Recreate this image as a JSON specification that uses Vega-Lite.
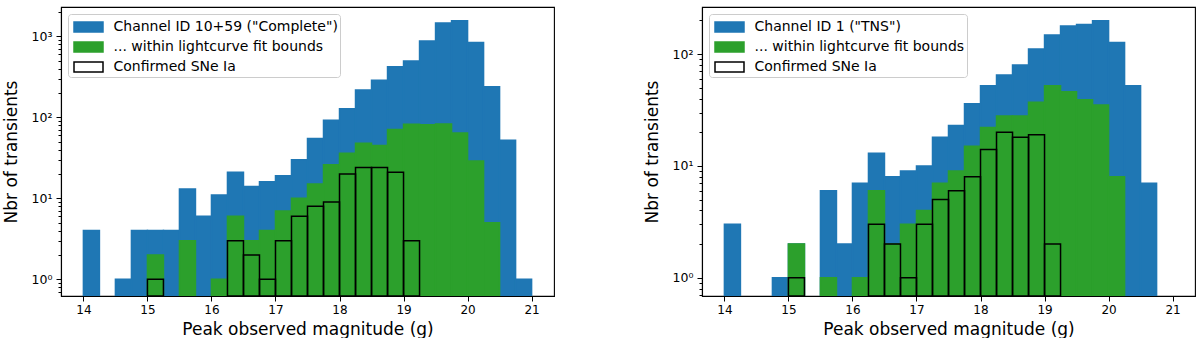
{
  "$schema": "https://vega.github.io/schema/vega-lite/v6.json",
  "padding": {"left": 1, "top": 5, "right": 0, "bottom": 0},
  "background": "white",
  "spacing": 87,
  "config": {
    "view": {"stroke": "black", "strokeWidth": 1.1},
    "font": "DejaVu Sans",
    "axis": {
      "grid": false,
      "domain": true,
      "domainColor": "black",
      "domainWidth": 1.1,
      "tickColor": "black",
      "tickWidth": 1,
      "labelColor": "black",
      "titleColor": "black",
      "labelFont": "DejaVu Sans",
      "titleFont": "DejaVu Sans",
      "labelFontSize": 12,
      "titleFontSize": 17,
      "titleFontWeight": "normal",
      "zindex": 1
    },
    "legend": {
      "orient": "top-left",
      "offset": 7,
      "padding": 2,
      "strokeColor": "#cccccc",
      "fillColor": "rgba(255,255,255,0.8)",
      "cornerRadius": 3,
      "symbolType": "M-1.45,-0.5H1.45V0.5H-1.45Z",
      "symbolSize": 400,
      "symbolOffset": 7.5,
      "symbolStrokeWidth": 1.5,
      "labelFont": "DejaVu Sans",
      "labelFontSize": 14,
      "labelColor": "black",
      "labelOffset": 14,
      "labelLimit": 500,
      "rowPadding": 1,
      "title": null
    }
  },
  "datasets": {
    "complete": [
      {"lo": 14.0, "hi": 14.25, "n": 4, "series": "Channel ID 10+59 (\"Complete\")"},
      {"lo": 14.5, "hi": 14.75, "n": 1, "series": "Channel ID 10+59 (\"Complete\")"},
      {"lo": 14.75, "hi": 15.0, "n": 4, "series": "Channel ID 10+59 (\"Complete\")"},
      {"lo": 15.0, "hi": 15.25, "n": 4, "series": "Channel ID 10+59 (\"Complete\")"},
      {"lo": 15.25, "hi": 15.5, "n": 4, "series": "Channel ID 10+59 (\"Complete\")"},
      {"lo": 15.5, "hi": 15.75, "n": 13, "series": "Channel ID 10+59 (\"Complete\")"},
      {"lo": 15.75, "hi": 16.0, "n": 6, "series": "Channel ID 10+59 (\"Complete\")"},
      {"lo": 16.0, "hi": 16.25, "n": 11, "series": "Channel ID 10+59 (\"Complete\")"},
      {"lo": 16.25, "hi": 16.5, "n": 21, "series": "Channel ID 10+59 (\"Complete\")"},
      {"lo": 16.5, "hi": 16.75, "n": 14, "series": "Channel ID 10+59 (\"Complete\")"},
      {"lo": 16.75, "hi": 17.0, "n": 16, "series": "Channel ID 10+59 (\"Complete\")"},
      {"lo": 17.0, "hi": 17.25, "n": 19, "series": "Channel ID 10+59 (\"Complete\")"},
      {"lo": 17.25, "hi": 17.5, "n": 30, "series": "Channel ID 10+59 (\"Complete\")"},
      {"lo": 17.5, "hi": 17.75, "n": 55, "series": "Channel ID 10+59 (\"Complete\")"},
      {"lo": 17.75, "hi": 18.0, "n": 92, "series": "Channel ID 10+59 (\"Complete\")"},
      {"lo": 18.0, "hi": 18.25, "n": 128, "series": "Channel ID 10+59 (\"Complete\")"},
      {"lo": 18.25, "hi": 18.5, "n": 217, "series": "Channel ID 10+59 (\"Complete\")"},
      {"lo": 18.5, "hi": 18.75, "n": 288, "series": "Channel ID 10+59 (\"Complete\")"},
      {"lo": 18.75, "hi": 19.0, "n": 421, "series": "Channel ID 10+59 (\"Complete\")"},
      {"lo": 19.0, "hi": 19.25, "n": 495, "series": "Channel ID 10+59 (\"Complete\")"},
      {"lo": 19.25, "hi": 19.5, "n": 875, "series": "Channel ID 10+59 (\"Complete\")"},
      {"lo": 19.5, "hi": 19.75, "n": 1459, "series": "Channel ID 10+59 (\"Complete\")"},
      {"lo": 19.75, "hi": 20.0, "n": 1560, "series": "Channel ID 10+59 (\"Complete\")"},
      {"lo": 20.0, "hi": 20.25, "n": 841, "series": "Channel ID 10+59 (\"Complete\")"},
      {"lo": 20.25, "hi": 20.5, "n": 238, "series": "Channel ID 10+59 (\"Complete\")"},
      {"lo": 20.5, "hi": 20.75, "n": 52, "series": "Channel ID 10+59 (\"Complete\")"},
      {"lo": 20.75, "hi": 21.0, "n": 1, "series": "Channel ID 10+59 (\"Complete\")"},
      {"lo": 15.0, "hi": 15.25, "n": 2, "series": "... within lightcurve fit bounds"},
      {"lo": 15.5, "hi": 15.75, "n": 3, "series": "... within lightcurve fit bounds"},
      {"lo": 16.0, "hi": 16.25, "n": 1, "series": "... within lightcurve fit bounds"},
      {"lo": 16.25, "hi": 16.5, "n": 6, "series": "... within lightcurve fit bounds"},
      {"lo": 16.5, "hi": 16.75, "n": 3, "series": "... within lightcurve fit bounds"},
      {"lo": 16.75, "hi": 17.0, "n": 4, "series": "... within lightcurve fit bounds"},
      {"lo": 17.0, "hi": 17.25, "n": 7, "series": "... within lightcurve fit bounds"},
      {"lo": 17.25, "hi": 17.5, "n": 10, "series": "... within lightcurve fit bounds"},
      {"lo": 17.5, "hi": 17.75, "n": 15, "series": "... within lightcurve fit bounds"},
      {"lo": 17.75, "hi": 18.0, "n": 26, "series": "... within lightcurve fit bounds"},
      {"lo": 18.0, "hi": 18.25, "n": 36, "series": "... within lightcurve fit bounds"},
      {"lo": 18.25, "hi": 18.5, "n": 48, "series": "... within lightcurve fit bounds"},
      {"lo": 18.5, "hi": 18.75, "n": 45, "series": "... within lightcurve fit bounds"},
      {"lo": 18.75, "hi": 19.0, "n": 71, "series": "... within lightcurve fit bounds"},
      {"lo": 19.0, "hi": 19.25, "n": 82, "series": "... within lightcurve fit bounds"},
      {"lo": 19.25, "hi": 19.5, "n": 81, "series": "... within lightcurve fit bounds"},
      {"lo": 19.5, "hi": 19.75, "n": 83, "series": "... within lightcurve fit bounds"},
      {"lo": 19.75, "hi": 20.0, "n": 64, "series": "... within lightcurve fit bounds"},
      {"lo": 20.0, "hi": 20.25, "n": 29, "series": "... within lightcurve fit bounds"},
      {"lo": 20.25, "hi": 20.5, "n": 5, "series": "... within lightcurve fit bounds"},
      {"lo": 15.0, "hi": 15.25, "n": 1, "series": "Confirmed SNe Ia"},
      {"lo": 16.25, "hi": 16.5, "n": 3, "series": "Confirmed SNe Ia"},
      {"lo": 16.5, "hi": 16.75, "n": 2, "series": "Confirmed SNe Ia"},
      {"lo": 16.75, "hi": 17.0, "n": 1, "series": "Confirmed SNe Ia"},
      {"lo": 17.0, "hi": 17.25, "n": 3, "series": "Confirmed SNe Ia"},
      {"lo": 17.25, "hi": 17.5, "n": 6, "series": "Confirmed SNe Ia"},
      {"lo": 17.5, "hi": 17.75, "n": 8, "series": "Confirmed SNe Ia"},
      {"lo": 17.75, "hi": 18.0, "n": 9, "series": "Confirmed SNe Ia"},
      {"lo": 18.0, "hi": 18.25, "n": 20, "series": "Confirmed SNe Ia"},
      {"lo": 18.25, "hi": 18.5, "n": 24, "series": "Confirmed SNe Ia"},
      {"lo": 18.5, "hi": 18.75, "n": 24, "series": "Confirmed SNe Ia"},
      {"lo": 18.75, "hi": 19.0, "n": 21, "series": "Confirmed SNe Ia"},
      {"lo": 19.0, "hi": 19.25, "n": 3, "series": "Confirmed SNe Ia"}
    ],
    "tns": [
      {"lo": 14.0, "hi": 14.25, "n": 3, "series": "Channel ID 1 (\"TNS\")"},
      {"lo": 14.75, "hi": 15.0, "n": 1, "series": "Channel ID 1 (\"TNS\")"},
      {"lo": 15.0, "hi": 15.25, "n": 2, "series": "Channel ID 1 (\"TNS\")"},
      {"lo": 15.5, "hi": 15.75, "n": 6, "series": "Channel ID 1 (\"TNS\")"},
      {"lo": 15.75, "hi": 16.0, "n": 2, "series": "Channel ID 1 (\"TNS\")"},
      {"lo": 16.0, "hi": 16.25, "n": 7, "series": "Channel ID 1 (\"TNS\")"},
      {"lo": 16.25, "hi": 16.5, "n": 13, "series": "Channel ID 1 (\"TNS\")"},
      {"lo": 16.5, "hi": 16.75, "n": 8, "series": "Channel ID 1 (\"TNS\")"},
      {"lo": 16.75, "hi": 17.0, "n": 9, "series": "Channel ID 1 (\"TNS\")"},
      {"lo": 17.0, "hi": 17.25, "n": 10, "series": "Channel ID 1 (\"TNS\")"},
      {"lo": 17.25, "hi": 17.5, "n": 18, "series": "Channel ID 1 (\"TNS\")"},
      {"lo": 17.5, "hi": 17.75, "n": 23, "series": "Channel ID 1 (\"TNS\")"},
      {"lo": 17.75, "hi": 18.0, "n": 36, "series": "Channel ID 1 (\"TNS\")"},
      {"lo": 18.0, "hi": 18.25, "n": 52, "series": "Channel ID 1 (\"TNS\")"},
      {"lo": 18.25, "hi": 18.5, "n": 65, "series": "Channel ID 1 (\"TNS\")"},
      {"lo": 18.5, "hi": 18.75, "n": 80, "series": "Channel ID 1 (\"TNS\")"},
      {"lo": 18.75, "hi": 19.0, "n": 111, "series": "Channel ID 1 (\"TNS\")"},
      {"lo": 19.0, "hi": 19.25, "n": 148, "series": "Channel ID 1 (\"TNS\")"},
      {"lo": 19.25, "hi": 19.5, "n": 178, "series": "Channel ID 1 (\"TNS\")"},
      {"lo": 19.5, "hi": 19.75, "n": 184, "series": "Channel ID 1 (\"TNS\")"},
      {"lo": 19.75, "hi": 20.0, "n": 199, "series": "Channel ID 1 (\"TNS\")"},
      {"lo": 20.0, "hi": 20.25, "n": 127, "series": "Channel ID 1 (\"TNS\")"},
      {"lo": 20.25, "hi": 20.5, "n": 52, "series": "Channel ID 1 (\"TNS\")"},
      {"lo": 20.5, "hi": 20.75, "n": 7, "series": "Channel ID 1 (\"TNS\")"},
      {"lo": 15.0, "hi": 15.25, "n": 2, "series": "... within lightcurve fit bounds"},
      {"lo": 15.5, "hi": 15.75, "n": 1, "series": "... within lightcurve fit bounds"},
      {"lo": 16.0, "hi": 16.25, "n": 1, "series": "... within lightcurve fit bounds"},
      {"lo": 16.25, "hi": 16.5, "n": 6, "series": "... within lightcurve fit bounds"},
      {"lo": 16.5, "hi": 16.75, "n": 2, "series": "... within lightcurve fit bounds"},
      {"lo": 16.75, "hi": 17.0, "n": 3, "series": "... within lightcurve fit bounds"},
      {"lo": 17.0, "hi": 17.25, "n": 4, "series": "... within lightcurve fit bounds"},
      {"lo": 17.25, "hi": 17.5, "n": 7, "series": "... within lightcurve fit bounds"},
      {"lo": 17.5, "hi": 17.75, "n": 9, "series": "... within lightcurve fit bounds"},
      {"lo": 17.75, "hi": 18.0, "n": 15, "series": "... within lightcurve fit bounds"},
      {"lo": 18.0, "hi": 18.25, "n": 22, "series": "... within lightcurve fit bounds"},
      {"lo": 18.25, "hi": 18.5, "n": 28, "series": "... within lightcurve fit bounds"},
      {"lo": 18.5, "hi": 18.75, "n": 28, "series": "... within lightcurve fit bounds"},
      {"lo": 18.75, "hi": 19.0, "n": 37, "series": "... within lightcurve fit bounds"},
      {"lo": 19.0, "hi": 19.25, "n": 52, "series": "... within lightcurve fit bounds"},
      {"lo": 19.25, "hi": 19.5, "n": 46, "series": "... within lightcurve fit bounds"},
      {"lo": 19.5, "hi": 19.75, "n": 39, "series": "... within lightcurve fit bounds"},
      {"lo": 19.75, "hi": 20.0, "n": 35, "series": "... within lightcurve fit bounds"},
      {"lo": 20.0, "hi": 20.25, "n": 8, "series": "... within lightcurve fit bounds"},
      {"lo": 15.0, "hi": 15.25, "n": 1, "series": "Confirmed SNe Ia"},
      {"lo": 16.25, "hi": 16.5, "n": 3, "series": "Confirmed SNe Ia"},
      {"lo": 16.5, "hi": 16.75, "n": 2, "series": "Confirmed SNe Ia"},
      {"lo": 16.75, "hi": 17.0, "n": 1, "series": "Confirmed SNe Ia"},
      {"lo": 17.0, "hi": 17.25, "n": 3, "series": "Confirmed SNe Ia"},
      {"lo": 17.25, "hi": 17.5, "n": 5, "series": "Confirmed SNe Ia"},
      {"lo": 17.5, "hi": 17.75, "n": 6, "series": "Confirmed SNe Ia"},
      {"lo": 17.75, "hi": 18.0, "n": 8, "series": "Confirmed SNe Ia"},
      {"lo": 18.0, "hi": 18.25, "n": 14, "series": "Confirmed SNe Ia"},
      {"lo": 18.25, "hi": 18.5, "n": 20, "series": "Confirmed SNe Ia"},
      {"lo": 18.5, "hi": 18.75, "n": 18, "series": "Confirmed SNe Ia"},
      {"lo": 18.75, "hi": 19.0, "n": 19, "series": "Confirmed SNe Ia"},
      {"lo": 19.0, "hi": 19.25, "n": 2, "series": "Confirmed SNe Ia"}
    ]
  },
  "resolve": {
    "scale": {"fill": "independent", "stroke": "independent", "x": "independent", "y": "independent"},
    "legend": {"fill": "independent", "stroke": "independent"}
  },
  "hconcat": [
    {
      "width": 493,
      "height": 289,
      "data": {"name": "complete"},
      "mark": {"type": "bar", "clip": true, "strokeWidth": 1.5},
      "encoding": {
        "x": {
          "field": "lo", "type": "quantitative",
          "scale": {"domain": [13.65, 21.35], "nice": false, "zero": false},
          "axis": {"values": [14, 15, 16, 17, 18, 19, 20, 21], "tickSize": 5, "labelPadding": 3, "titlePadding": 6, "labelFlush": false},
          "title": "Peak observed magnitude (g)"
        },
        "x2": {"field": "hi"},
        "y": {
          "field": "n", "type": "quantitative",
          "scale": {"type": "log", "domain": [0.622, 2307], "nice": false},
          "axis": {
            "values": [0.7, 0.8, 0.9, 1, 2, 3, 4, 5, 6, 7, 8, 9, 10, 20, 30, 40, 50, 60, 70, 80, 90, 100, 200, 300, 400, 500, 600, 700, 800, 900, 1000, 2000],
            "labelExpr": "datum.value == 1 ? '10⁰' : datum.value == 10 ? '10¹' : datum.value == 100 ? '10²' : datum.value == 1000 ? '10³' : ''",
            "labelOverlap": false,
            "labelPadding": 4,
            "labelFontSize": 12.5,
            "tickSize": {"condition": {"test": "datum.value == 1 || datum.value == 10 || datum.value == 100 || datum.value == 1000", "value": 5}, "value": 3},
            "titleX": -50,
            "titleY": 144.5,
            "titleAngle": 270,
            "titleBaseline": "middle",
            "titleAlign": "center"
          },
          "title": "Nbr of transients"
        },
        "y2": {"value": "height"},
        "fill": {
          "field": "series", "type": "nominal",
          "scale": {"domain": ["Channel ID 10+59 (\"Complete\")", "... within lightcurve fit bounds", "Confirmed SNe Ia"], "range": ["#1f77b4", "#2ca02c", "rgba(0,0,0,0)"]}
        },
        "stroke": {
          "field": "series", "type": "nominal",
          "scale": {"domain": ["Channel ID 10+59 (\"Complete\")", "... within lightcurve fit bounds", "Confirmed SNe Ia"], "range": ["#1f77b4", "#2ca02c", "black"]}
        }
      }
    },
    {
      "width": 493,
      "height": 289,
      "data": {"name": "tns"},
      "mark": {"type": "bar", "clip": true, "strokeWidth": 1.5},
      "encoding": {
        "x": {
          "field": "lo", "type": "quantitative",
          "scale": {"domain": [13.65, 21.35], "nice": false, "zero": false},
          "axis": {"values": [14, 15, 16, 17, 18, 19, 20, 21], "tickSize": 5, "labelPadding": 3, "titlePadding": 6, "labelFlush": false},
          "title": "Peak observed magnitude (g)"
        },
        "x2": {"field": "hi"},
        "y": {
          "field": "n", "type": "quantitative",
          "scale": {"type": "log", "domain": [0.686, 263.6], "nice": false},
          "axis": {
            "values": [0.7, 0.8, 0.9, 1, 2, 3, 4, 5, 6, 7, 8, 9, 10, 20, 30, 40, 50, 60, 70, 80, 90, 100, 200],
            "labelExpr": "datum.value == 1 ? '10⁰' : datum.value == 10 ? '10¹' : datum.value == 100 ? '10²' : ''",
            "labelOverlap": false,
            "labelPadding": 4,
            "labelFontSize": 12.5,
            "tickSize": {"condition": {"test": "datum.value == 1 || datum.value == 10 || datum.value == 100", "value": 5}, "value": 3},
            "titleX": -50,
            "titleY": 144.5,
            "titleAngle": 270,
            "titleBaseline": "middle",
            "titleAlign": "center"
          },
          "title": "Nbr of transients"
        },
        "y2": {"value": "height"},
        "fill": {
          "field": "series", "type": "nominal",
          "scale": {"domain": ["Channel ID 1 (\"TNS\")", "... within lightcurve fit bounds", "Confirmed SNe Ia"], "range": ["#1f77b4", "#2ca02c", "rgba(0,0,0,0)"]}
        },
        "stroke": {
          "field": "series", "type": "nominal",
          "scale": {"domain": ["Channel ID 1 (\"TNS\")", "... within lightcurve fit bounds", "Confirmed SNe Ia"], "range": ["#1f77b4", "#2ca02c", "black"]}
        }
      }
    }
  ]
}
